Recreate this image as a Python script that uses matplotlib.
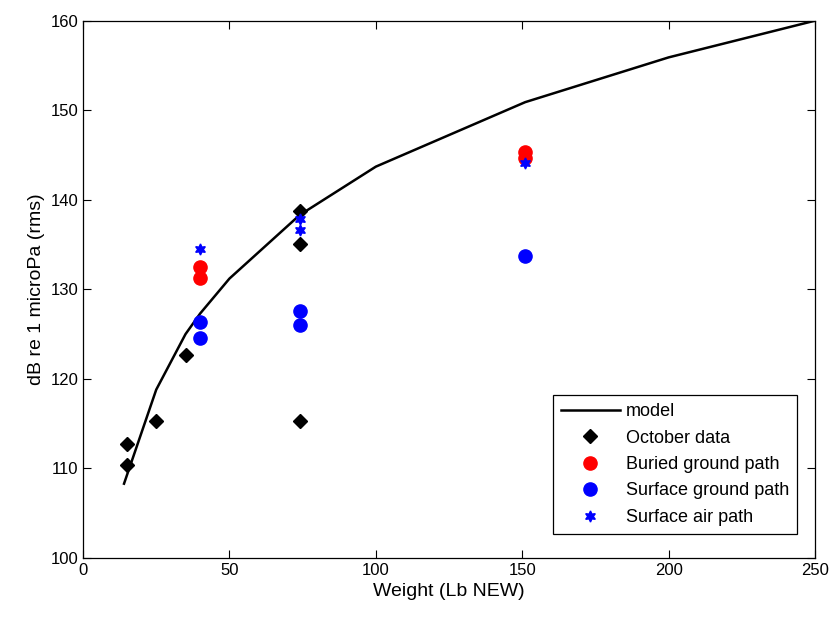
import matplotlib
matplotlib.use("Agg")
import matplotlib.pyplot as plt

plt.rcParams['font.family'] = ['Liberation Sans', 'DejaVu Sans']

# model curve
model_x = [14, 25, 35, 40, 50, 74, 100, 151, 200, 250]
model_y = [108.3, 118.8, 125.0, 127.3, 131.2, 138.3, 143.7, 150.9, 155.9, 160.0]

# October data
oct_x = [15, 15, 25, 35, 74, 74, 74]
oct_y = [112.7, 110.4, 115.3, 122.7, 138.7, 135.1, 115.3]

# Buried ground path
bur_x = [40, 40, 151, 151]
bur_y = [132.5, 131.3, 145.3, 144.7]

# Surface ground path
sg_x = [40, 40, 74, 74, 151]
sg_y = [126.3, 124.6, 127.6, 126.0, 133.7]

# Surface air path
sa_x = [40, 74, 74, 151]
sa_y = [134.5, 137.9, 136.6, 144.1]

fig = plt.figure(figsize=(8.32, 6.17), dpi=100)
ax = fig.add_axes([0.0998, 0.0956, 0.8798, 0.8709])

ax.plot(model_x, model_y, color='black', lw=1.8, label='model', zorder=2)
ax.plot(oct_x, oct_y, linestyle='none', marker='D', color='black', markersize=7.5,
        label='October data', zorder=3)
ax.plot(bur_x, bur_y, linestyle='none', marker='o', color='red', markersize=9.5,
        label='Buried ground path', zorder=3)
ax.plot(sg_x, sg_y, linestyle='none', marker='o', color='blue', markersize=9.5,
        label='Surface ground path', zorder=3)
ax.plot(sa_x, sa_y, linestyle='none', marker=(6, 1, 0), color='blue', markersize=8,
        label='Surface air path', zorder=4)

ax.set_xlim(0, 250)
ax.set_ylim(100, 160)
ax.set_xticks([0, 50, 100, 150, 200, 250])
ax.set_yticks([100, 110, 120, 130, 140, 150, 160])
ax.tick_params(direction='in', top=True, right=True, length=6, width=0.8,
               labelsize=12, colors='black')
for s in ax.spines.values():
    s.set_linewidth(0.9)

ax.set_xlabel('Weight (Lb NEW)', fontsize=14)
ax.set_ylabel('dB re 1 microPa (rms)', fontsize=14)

leg = ax.legend(loc='lower right', bbox_to_anchor=(0.9754, 0.0447), borderaxespad=0,
                fontsize=13, frameon=True, fancybox=False, edgecolor='black',
                framealpha=1, handlelength=3.3, handletextpad=0.3,
                borderpad=0.45, labelspacing=0.52)
leg.get_frame().set_linewidth(0.9)

fig.savefig('out.png', dpi=100)
